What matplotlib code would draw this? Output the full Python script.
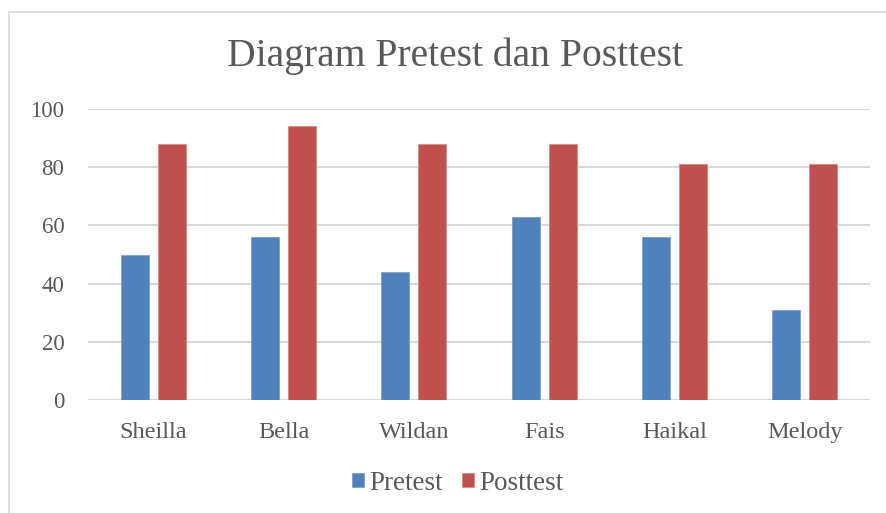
import matplotlib
matplotlib.use('Agg')
import matplotlib.pyplot as plt
from matplotlib.patches import Rectangle
import numpy as np

# Data
names = ['Sheilla', 'Bella', 'Wildan', 'Fais', 'Haikal', 'Melody']
pretest = [50, 56, 44, 63, 56, 31]
posttest = [88, 94, 88, 88, 81, 81]
yticks = [0, 20, 40, 60, 80, 100]

blue = '#4F81BD'
red = '#C0504D'
grey = '#595959'

plt.rcParams['font.family'] = ['Liberation Serif', 'DejaVu Serif']

fig = plt.figure(figsize=(8.86, 5.13), dpi=100)
ax = fig.add_axes([88/886, 113/513, 782/886, 291/513])

x = np.arange(len(names))
w = 0.215
off = 0.142
ax.bar(x - off, pretest, w, color=blue, edgecolor='#7FA0CC', linewidth=0.6, label='Pretest', zorder=3)
ax.bar(x + off, posttest, w, color=red, edgecolor='#D98A88', linewidth=0.6, label='Posttest', zorder=3)

ax.set_xlim(-0.5, len(names) - 0.5)
ax.set_ylim(0, 100)
ax.set_yticks(yticks)
ax.set_xticks(x)
ax.set_xticklabels(names)
ax.tick_params(axis='x', length=0, labelsize=17.5, colors=grey, pad=16)
ax.tick_params(axis='y', length=0, labelsize=16.5, colors=grey, pad=17)
ax.grid(axis='y', color='#D9D9D9', linewidth=1.5, zorder=0)
for s in ax.spines.values():
    s.set_visible(False)

fig.text(455/886, 1 - 56/513, 'Diagram Pretest dan Posttest', ha='center', va='center',
         fontsize=28.5, color=grey)

leg = fig.legend(loc='center', bbox_to_anchor=(458/886, 1 - 483/513), ncol=2, frameon=False,
                 fontsize=19.5, handlelength=0.45, handleheight=0.45, handletextpad=0.2,
                 columnspacing=0.7, borderpad=0)
for t in leg.get_texts():
    t.set_color(grey)

# chart border
fig.patches.append(Rectangle((9/886, -0.1), 1.0, 1 - 12/513 + 0.1, transform=fig.transFigure,
                             fill=False, edgecolor='#D9D9D9', linewidth=1.2))

fig.savefig('out.png', dpi=100)
